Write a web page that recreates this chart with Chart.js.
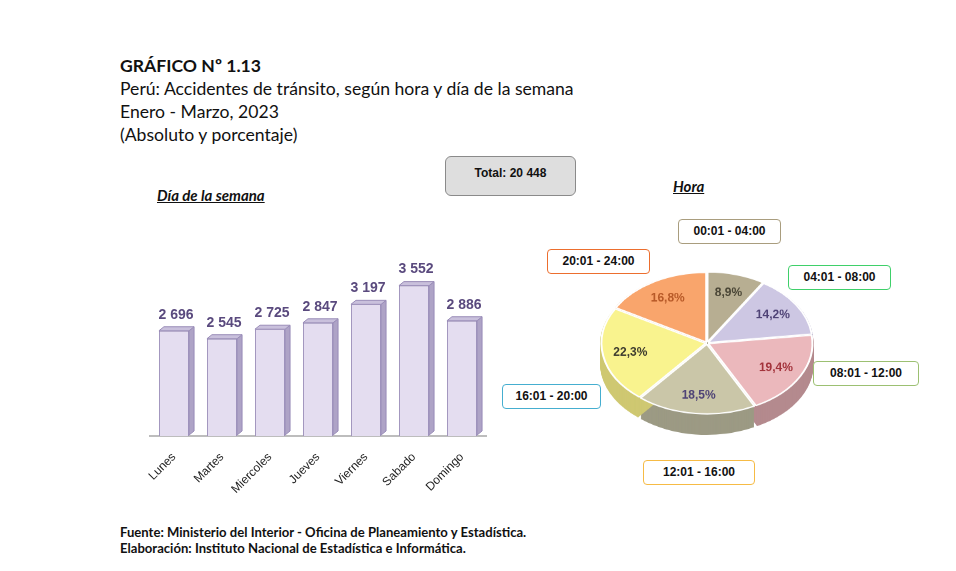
<!DOCTYPE html>
<html>
<head>
<meta charset="utf-8">
<script src="https://cdn.jsdelivr.net/npm/chart.js@4.4.0/dist/chart.umd.min.js"></script>
<style>
  body { margin: 0; background: #fff; }
  #page { position: relative; width: 956px; height: 571px; overflow: hidden; font-family: Lato, "Open Sans", sans-serif; }
  .tit { position: absolute; left: 120px; font-size: 17.6px; color: #111; white-space: nowrap; }
  .narrow { font-family: "Liberation Sans Narrow", "Arial Narrow", "Liberation Sans", sans-serif; font-weight: bold; }
  #total { position: absolute; left: 445px; top: 156px; width: 129px; height: 38px; background: #dedede;
           border: 1.5px solid #8a8a8a; border-radius: 6px; font-size: 12px; text-align: center; line-height: 32px; color: #111; }
  .sub { position: absolute; font-weight: bold; font-style: italic; text-decoration: underline; font-size: 15px; color: #111; }
  .box { position: absolute; background: #fff; border: 1.5px solid; border-radius: 4px; font-size: 12px;
         text-align: center; color: #111; height: 23px; line-height: 23px; }
  .foot { position: absolute; left: 120px; font-size: 13.1px; font-weight: bold; color: #111; white-space: nowrap; }
  #barWrap { position: absolute; left: 120px; top: 240px; }
  #pieWrap { position: absolute; left: 592px; top: 266px; transform: scaleY(0.67); transform-origin: 0 0; }
</style>
</head>
<body>
<div id="page">
  <div class="tit" style="top:55px;font-weight:bold;">GRÁFICO Nº 1.13</div>
  <div class="tit" style="top:78px;">Perú: Accidentes de tránsito, según hora y día de la semana</div>
  <div class="tit" style="top:101px;">Enero - Marzo, 2023</div>
  <div class="tit" style="top:124px;">(Absoluto y porcentaje)</div>

  <div id="total" class="narrow">Total: 20 448</div>
  <div class="sub" style="left:157px;top:186px;">Día de la semana</div>
  <div class="sub" style="left:673px;top:177px;">Hora</div>

  <div id="barWrap"><canvas id="bars" width="390" height="260"></canvas></div>
  <div id="pieWrap"><canvas id="pie" width="230" height="260"></canvas></div>

  <div class="box narrow" style="left:678px;top:219px;width:101px;border-color:#a99d7e;">00:01 - 04:00</div>
  <div class="box narrow" style="left:788px;top:265px;width:101px;border-color:#3fd06a;">04:01 - 08:00</div>
  <div class="box narrow" style="left:813px;top:361px;width:104px;border-color:#9cc072;">08:01 - 12:00</div>
  <div class="box narrow" style="left:643px;top:460px;width:110px;border-color:#f6bb45;">12:01 - 16:00</div>
  <div class="box narrow" style="left:502px;top:384px;width:97px;border-color:#45aed0;">16:01 - 20:00</div>
  <div class="box narrow" style="left:547px;top:249px;width:101px;border-color:#ec6e2e;">20:01 - 24:00</div>

  <div class="foot" style="top:524px;">Fuente: Ministerio del Interior - Oficina de Planeamiento y Estadística.</div>
  <div class="foot" style="top:540px;">Elaboración: Instituto Nacional de Estadística e Informática.</div>
</div>

<script>
const dayLabels = ['Lunes', 'Martes', 'Miercoles', 'Jueves', 'Viernes', 'Sabado', 'Domingo']
const dayValues = [2696, 2545, 2725, 2847, 3197, 3552, 2886]

const hourLabels = ['00:01 - 04:00', '04:01 - 08:00', '08:01 - 12:00', '12:01 - 16:00', '16:01 - 20:00', '20:01 - 24:00']
const hourPct = [8.9, 14.2, 19.4, 18.5, 22.3, 16.8]

const narrowFont = '"Liberation Sans Narrow", "Arial Narrow", "Liberation Sans", sans-serif'

function spaced(n){
  return n.toString().replace(/\B(?=(\d{3})+(?!\d))/g, ' ')
}

// 3d look for the bars + value labels
const bar3d = {
  id: 'bar3d',
  afterDatasetsDraw(chart){
    const ctx = chart.ctx
    const meta = chart.getDatasetMeta(0)
    const bottom = chart.chartArea.bottom
    const dx = 5, dy = -4
    meta.data.forEach((b, i) => {
      const {x, y, width} = b.getProps(['x', 'y', 'width'])
      const l = x - width / 2, r = x + width / 2
      ctx.save()
      ctx.lineWidth = 1
      ctx.strokeStyle = '#9a8db8'
      // side
      ctx.beginPath()
      ctx.moveTo(r, y); ctx.lineTo(r + dx, y + dy); ctx.lineTo(r + dx, bottom + dy - 1); ctx.lineTo(r, bottom - 1)
      ctx.closePath()
      ctx.fillStyle = '#aea3c6'
      ctx.fill(); ctx.stroke()
      // top
      ctx.beginPath()
      ctx.moveTo(l, y); ctx.lineTo(l + dx, y + dy); ctx.lineTo(r + dx, y + dy); ctx.lineTo(r, y)
      ctx.closePath()
      ctx.fillStyle = '#c9c0dc'
      ctx.fill(); ctx.stroke()
      // value
      ctx.fillStyle = '#5a4a7e'
      ctx.font = 'bold 14px ' + narrowFont
      ctx.textAlign = 'center'
      ctx.textBaseline = 'bottom'
      ctx.fillText(spaced(dayValues[i]), x + 2, y + dy - 5)
      ctx.restore()
    })
  }
}

new Chart(document.getElementById('bars'), {
  type: 'bar',
  data: {
    labels: dayLabels,
    datasets: [{
      data: dayValues,
      backgroundColor: '#e4ddf0',
      borderColor: '#9a8db8',
      borderWidth: 1,
      barPercentage: 0.66,
      categoryPercentage: 0.95
    }]
  },
  options: {
    responsive: false,
    animation: false,
    layout: { padding: { left: 30, right: 24, top: 22, bottom: 0 } },
    plugins: { legend: { display: false }, tooltip: { enabled: false } },
    scales: {
      y: { display: false, min: 700, max: 4000 },
      x: {
        grid: { display: false },
        border: { display: true, color: '#bdbdbd', width: 2 },
        ticks: { color: '#222', font: { size: 12, family: 'Liberation Sans, Arial, sans-serif' }, minRotation: 45, maxRotation: 45, padding: 6 },
        afterFit(scale){ scale.height = 64 }
      }
    }
  },
  plugins: [bar3d]
})

// pie depth + labels
const squash = 0.67
const sideColors = ['#8f876c', '#a39cbd', '#b48a8e', '#9c9a84', '#cfc872', '#d38a58']
const labelColors = ['#4a4636', '#4e4276', '#a3333b', '#4e4276', '#3d3b2e', '#b85a28']

const pieDepth = {
  id: 'pieDepth',
  beforeDatasetsDraw(chart){
    const ctx = chart.ctx
    const meta = chart.getDatasetMeta(0)
    const depth = 30
    const off = chart.data.datasets[0].offset
    meta.data.forEach((a, i) => {
      const p = a.getProps(['x', 'y', 'startAngle', 'endAngle', 'outerRadius'])
      const mid = (p.startAngle + p.endAngle) / 2
      const cx = p.x + Math.cos(mid) * off / 2, cy = p.y + Math.sin(mid) * off / 2
      ctx.save()
      ctx.fillStyle = sideColors[i]
      for (let d = depth; d > 0; d--) {
        ctx.beginPath()
        ctx.moveTo(cx, cy + d)
        ctx.arc(cx, cy + d, p.outerRadius, p.startAngle, p.endAngle)
        ctx.closePath()
        ctx.fill()
      }
      ctx.restore()
    })
  },
  afterDatasetsDraw(chart){
    const ctx = chart.ctx
    const meta = chart.getDatasetMeta(0)
    meta.data.forEach((a, i) => {
      const p = a.getProps(['x', 'y', 'startAngle', 'endAngle', 'outerRadius'])
      const mid = (p.startAngle + p.endAngle) / 2
      const r = p.outerRadius * 0.75
      ctx.save()
      ctx.translate(p.x + Math.cos(mid) * r, p.y + Math.sin(mid) * r)
      ctx.scale(1, 1 / squash)
      ctx.fillStyle = labelColors[i]
      ctx.font = 'bold 12px ' + narrowFont
      ctx.textAlign = 'center'
      ctx.textBaseline = 'middle'
      ctx.fillText(hourPct[i].toFixed(1).replace('.', ',') + '%', 0, 0)
      ctx.restore()
    })
  }
}

new Chart(document.getElementById('pie'), {
  type: 'pie',
  data: {
    labels: hourLabels,
    datasets: [{
      data: hourPct,
      backgroundColor: ['#b7ae92', '#cdc7e3', '#ebb8bc', '#cac6a8', '#f9f38e', '#f9a56c'],
      borderColor: '#ffffff',
      borderWidth: 2,
      offset: 6
    }]
  },
  options: {
    responsive: false,
    animation: false,
    layout: { padding: { left: 7, right: 7, top: 7, bottom: 37 } },
    plugins: { legend: { display: false }, tooltip: { enabled: false } }
  },
  plugins: [pieDepth]
})
</script>
</body>
</html>
